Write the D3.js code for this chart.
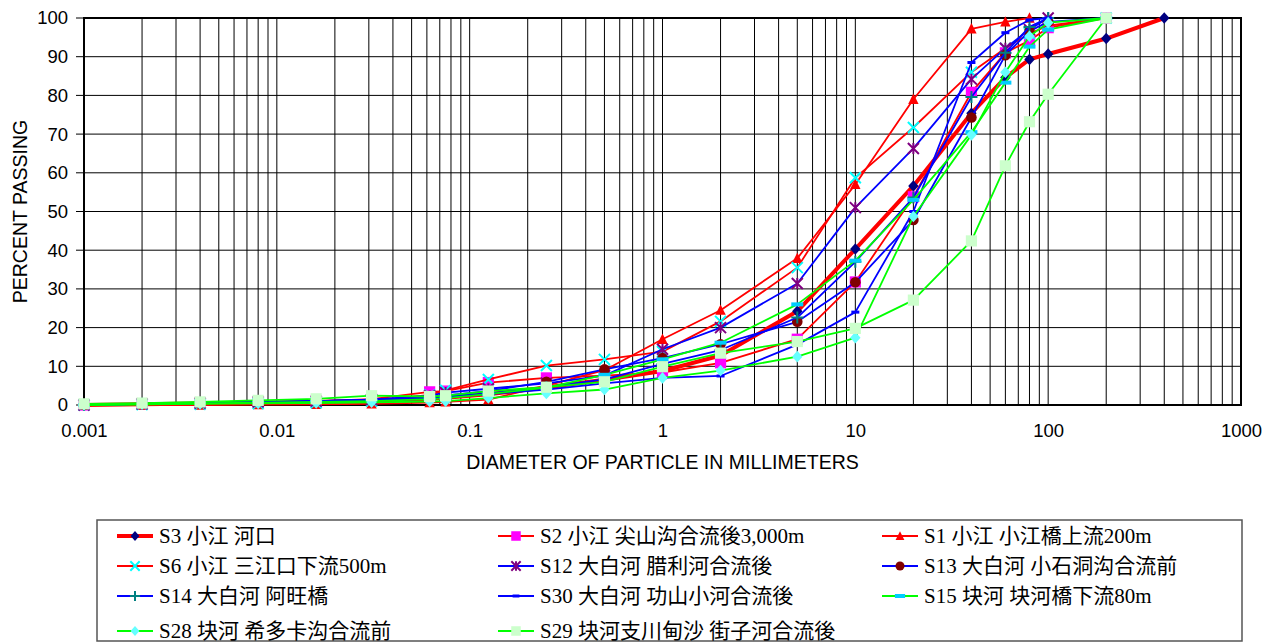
<!DOCTYPE html>
<html>
<head>
<meta charset="utf-8">
<title>粒径加積曲線</title>
<style>
  body { margin: 0; background: #fff; }
  svg { display: block; }
</style>
</head>
<body>
<script src="https://cdn.jsdelivr.net/npm/d3@7"></script>
<script>
// ---- data ----
const diam = [0.001, 0.002, 0.004, 0.008, 0.016, 0.031, 0.062, 0.075, 0.125, 0.25, 0.5,
              1, 2, 5, 10, 20, 40, 60, 80, 100, 200, 400];

const seriesNames = [
  "S3 小江 河口", "S2 小江 尖山沟合流後3,000m", "S1 小江 小江橋上流200m",
  "S6 小江 三江口下流500m", "S12 大白河 腊利河合流後", "S13 大白河 小石洞沟合流前",
  "S14 大白河 阿旺橋", "S30 大白河 功山小河合流後", "S15 块河 块河橋下流80m",
  "S28 块河 希多卡沟合流前", "S29 块河支川甸沙 街子河合流後"
];

// percent passing, aligned with diam (null = no point)
const s3  = [0, 0.2, 0.4, 0.6, 0.8, 1.1, 1.6, 1.9, 2.8, 4.5, 6.5, 8.8, 12.8, 24.2, 40.3, 56.6, 75.4, 84.6, 89.3, 90.7, 94.7, 100];
const s2  = [0, 0.2, 0.4, 0.7, 1.0, 1.5, 3.4, 3.6, 5.8, 7.0, 7.6, 8.4, 10.9, 17.0, 31.8, 53.8, 80.8, 91.0, 94.2, 97.5, 100, null];
const s1  = [0, 0, 0, 0.1, 0.2, 0.3, 0.6, 0.8, 1.4, 5.0, 9.0, 17.0, 24.5, 37.9, 57.0, 79.0, 97.2, 99.0, 100, null, null, null];
const s6  = [0, 0.1, 0.2, 0.4, 0.6, 1.0, 2.6, 3.8, 6.6, 10.2, 11.8, 13.8, 21.6, 35.5, 58.7, 71.7, 86.0, 92.2, 96.0, 98.0, 100, null];
const s12 = [0, 0.3, 0.5, 0.8, 1.0, 1.4, 2.4, 3.2, 4.2, 5.6, 7.6, 14.4, 20.0, 31.4, 51.0, 66.3, 84.2, 92.2, 97.0, 100, null, null];
const s13 = [0, 0.3, 0.5, 0.8, 1.0, 1.4, 2.0, 2.5, 3.6, 6.0, 9.2, 12.1, 15.7, 21.5, 31.7, 47.8, 74.3, 90.4, 96.6, 99.0, 100, null];
const s14 = [0, 0.3, 0.5, 0.7, 1.0, 1.3, 1.8, 2.2, 3.0, 4.6, 6.6, 10.6, 14.2, 22.6, 37.0, 53.6, 79.6, 91.0, 97.7, 100, null, null];
const s30 = [0, 0.3, 0.5, 0.7, 0.9, 1.2, 1.6, 2.0, 2.8, 4.0, 5.6, 7.0, 7.5, 15.6, 24.0, 50.0, 88.5, 96.2, 99.5, 100, null, null];
const s15 = [0, 0.2, 0.4, 0.6, 0.8, 1.0, 1.5, 1.8, 2.8, 4.5, 7.8, 11.8, 16.1, 26.0, 37.3, 53.0, 70.5, 83.3, 92.6, 97.0, 100, null];
const s28 = [0, 0.2, 0.3, 0.4, 0.5, 0.7, 0.9, 1.0, 1.8, 3.0, 4.0, 7.0, 8.9, 12.5, 17.4, 48.7, 69.8, 86.0, 95.3, 98.8, 100, null];
const s29 = [0.3, 0.5, 0.8, 1.2, 1.6, 2.4, 2.2, 2.4, 3.6, 4.6, 6.0, 9.9, 13.4, 16.4, 19.8, 27.1, 42.4, 61.8, 73.2, 80.3, 100, null];

const xTicks = [0.001, 0.01, 0.1, 1, 10, 100, 1000];
const xTickLabels = ["0.001", "0.01", "0.1", "1", "10", "100", "1000"];
const yTicks = [0, 10, 20, 30, 40, 50, 60, 70, 80, 90, 100];

// ---- styles per series ----
const styles = [
  { line: "#ff0000", w: 4,   mark: "diamond", fill: "#000080" },
  { line: "#ff0000", w: 1.8, mark: "square",  fill: "#ff00ff" },
  { line: "#ff0000", w: 1.8, mark: "triangle", fill: "#ff0000" },
  { line: "#ff0000", w: 1.8, mark: "x",       fill: "#00ffff" },
  { line: "#0000ff", w: 1.8, mark: "star",    fill: "#800080" },
  { line: "#0000ff", w: 1.8, mark: "circle",  fill: "#800000" },
  { line: "#0000ff", w: 1.8, mark: "plus",    fill: "#008080" },
  { line: "#0000ff", w: 1.8, mark: "dash",    fill: "#0000ff" },
  { line: "#00ff00", w: 1.8, mark: "bar",     fill: "#00ccff" },
  { line: "#00ff00", w: 1.8, mark: "diamond", fill: "#66ffff" },
  { line: "#00ff00", w: 1.8, mark: "square",  fill: "#ccffcc" }
];
const allValues = [s3, s2, s1, s6, s12, s13, s14, s30, s15, s28, s29];

// ---- layout ----
const width = 1275, height = 644;
const plot = { left: 84, top: 18, right: 1241, bottom: 405 };
const sansFont = "Liberation Sans, Arial, sans-serif";

const svg = d3.select("body").append("svg")
  .attr("width", width)
  .attr("height", height);

const x = d3.scaleLog().domain([0.001, 1000]).range([plot.left, plot.right]);
const y = d3.scaleLinear().domain([0, 100]).range([plot.bottom, plot.top]);

// grid: vertical minor lines
const gridX = [];
for (let e = -3; e < 3; e++) {
  for (let m = 1; m <= 9; m++) gridX.push(m * Math.pow(10, e));
}
gridX.push(1000);

const grid = svg.append("g");
grid.selectAll(".vg").data(gridX).enter().append("line")
  .attr("x1", d => x(d)).attr("x2", d => x(d))
  .attr("y1", plot.top).attr("y2", plot.bottom)
  .attr("stroke", "#000").attr("stroke-width", 1);
grid.selectAll(".hg").data(yTicks).enter().append("line")
  .attr("x1", plot.left - 8).attr("x2", plot.right)
  .attr("y1", d => y(d)).attr("y2", d => y(d))
  .attr("stroke", "#000").attr("stroke-width", 1);

// axes (labels only, lines drawn by frame)
const xAxis = d3.axisBottom(x).tickValues(xTicks)
  .tickFormat((d, i) => xTickLabels[i]).tickSize(0).tickPadding(19);
const gx = svg.append("g").attr("transform", "translate(0," + plot.bottom + ")").call(xAxis);
gx.select(".domain").remove();
gx.selectAll("text").attr("font-family", sansFont)
  .attr("font-size", "18.5px").attr("fill", "#000");

const yAxis = d3.axisLeft(y).tickValues(yTicks).tickSize(0).tickPadding(16);
const gy = svg.append("g").attr("transform", "translate(" + plot.left + ",0)").call(yAxis);
gy.select(".domain").remove();
gy.selectAll("text").attr("font-family", sansFont)
  .attr("font-size", "18.5px").attr("fill", "#000");

// frame
svg.append("rect")
  .attr("x", plot.left).attr("y", plot.top)
  .attr("width", plot.right - plot.left).attr("height", plot.bottom - plot.top)
  .attr("fill", "none").attr("stroke", "#000").attr("stroke-width", 2);

// axis titles
svg.append("text")
  .attr("x", (plot.left + plot.right) / 2).attr("y", 469)
  .attr("text-anchor", "middle")
  .attr("font-family", sansFont).attr("font-size", "19.5px")
  .text("DIAMETER OF PARTICLE IN MILLIMETERS");
svg.append("text")
  .attr("transform", "translate(26.5," + (plot.top + plot.bottom) / 2 + ") rotate(-90)")
  .attr("text-anchor", "middle")
  .attr("font-family", sansFont).attr("font-size", "19.5px")
  .text("PERCENT PASSING");

// marker drawing
function drawMarker(g, type, color, cx, cy, s) {
  s = s || 1;
  if (type === "diamond") {
    const hw = 5.2 * s, hh = 5.8 * s;
    g.append("path").attr("d", `M${cx},${cy - hh}L${cx + hw},${cy}L${cx},${cy + hh}L${cx - hw},${cy}Z`)
      .attr("fill", color);
  } else if (type === "square") {
    const h = 5.6 * s;
    g.append("rect").attr("x", cx - h).attr("y", cy - h).attr("width", 2 * h).attr("height", 2 * h)
      .attr("fill", color);
  } else if (type === "triangle") {
    const h = 5.2 * s;
    g.append("path").attr("d", `M${cx},${cy - h * 1.1}L${cx + h},${cy + h * 0.9}L${cx - h},${cy + h * 0.9}Z`)
      .attr("fill", color);
  } else if (type === "circle") {
    g.append("circle").attr("cx", cx).attr("cy", cy).attr("r", 5.3 * s).attr("fill", color);
  } else if (type === "x") {
    const h = 5.5 * s;
    g.append("path").attr("d", `M${cx - h},${cy - h}L${cx + h},${cy + h}M${cx - h},${cy + h}L${cx + h},${cy - h}`)
      .attr("stroke", color).attr("stroke-width", 2).attr("fill", "none");
  } else if (type === "star") {
    const h = 5.5 * s;
    g.append("path").attr("d", `M${cx - h},${cy - h}L${cx + h},${cy + h}M${cx - h},${cy + h}L${cx + h},${cy - h}M${cx},${cy - h}L${cx},${cy + h}`)
      .attr("stroke", color).attr("stroke-width", 2).attr("fill", "none");
  } else if (type === "plus") {
    const h = 6 * s;
    g.append("path").attr("d", `M${cx - h},${cy}L${cx + h},${cy}M${cx},${cy - h}L${cx},${cy + h}`)
      .attr("stroke", color).attr("stroke-width", 2).attr("fill", "none");
  } else if (type === "dash") {
    g.append("rect").attr("x", cx - 4 * s).attr("y", cy - 1.5).attr("width", 8 * s).attr("height", 3)
      .attr("fill", color);
  } else if (type === "bar") {
    g.append("rect").attr("x", cx - 6 * s).attr("y", cy - 2).attr("width", 12 * s).attr("height", 4)
      .attr("fill", color);
  }
}

// series
const line = d3.line()
  .defined(d => d[1] != null)
  .x(d => x(d[0]))
  .y(d => y(d[1]));

allValues.forEach((vals, i) => {
  const pts = diam.map((d, j) => [d, vals[j]]).filter(p => p[1] != null);
  const g = svg.append("g");
  g.append("path").datum(pts)
    .attr("d", line)
    .attr("fill", "none")
    .attr("stroke", styles[i].line)
    .attr("stroke-width", styles[i].w)
    .attr("stroke-linejoin", "round");
  pts.forEach(p => drawMarker(g, styles[i].mark, styles[i].fill, x(p[0]), y(p[1])));
});

// legend
const legend = svg.append("g");
legend.append("rect")
  .attr("x", 97).attr("y", 520).attr("width", 1145).attr("height", 121)
  .attr("fill", "#fff").attr("stroke", "#555").attr("stroke-width", 1.5);

const colX = [117, 498, 882];
const rowY = [536, 566, 596, 631];
seriesNames.forEach((name, i) => {
  const cx = colX[i % 3], cy = rowY[Math.floor(i / 3)];
  legend.append("line")
    .attr("x1", cx).attr("x2", cx + 36).attr("y1", cy).attr("y2", cy)
    .attr("stroke", styles[i].line).attr("stroke-width", styles[i].w);
  drawMarker(legend, styles[i].mark, styles[i].fill, cx + 18, cy, 0.85);
  legend.append("text")
    .attr("x", cx + 42).attr("y", cy + 7)
    .attr("font-family", "Liberation Serif, Noto Sans CJK JP, serif")
    .attr("font-size", "21px")
    .text(name);
});
</script>
</body>
</html>
